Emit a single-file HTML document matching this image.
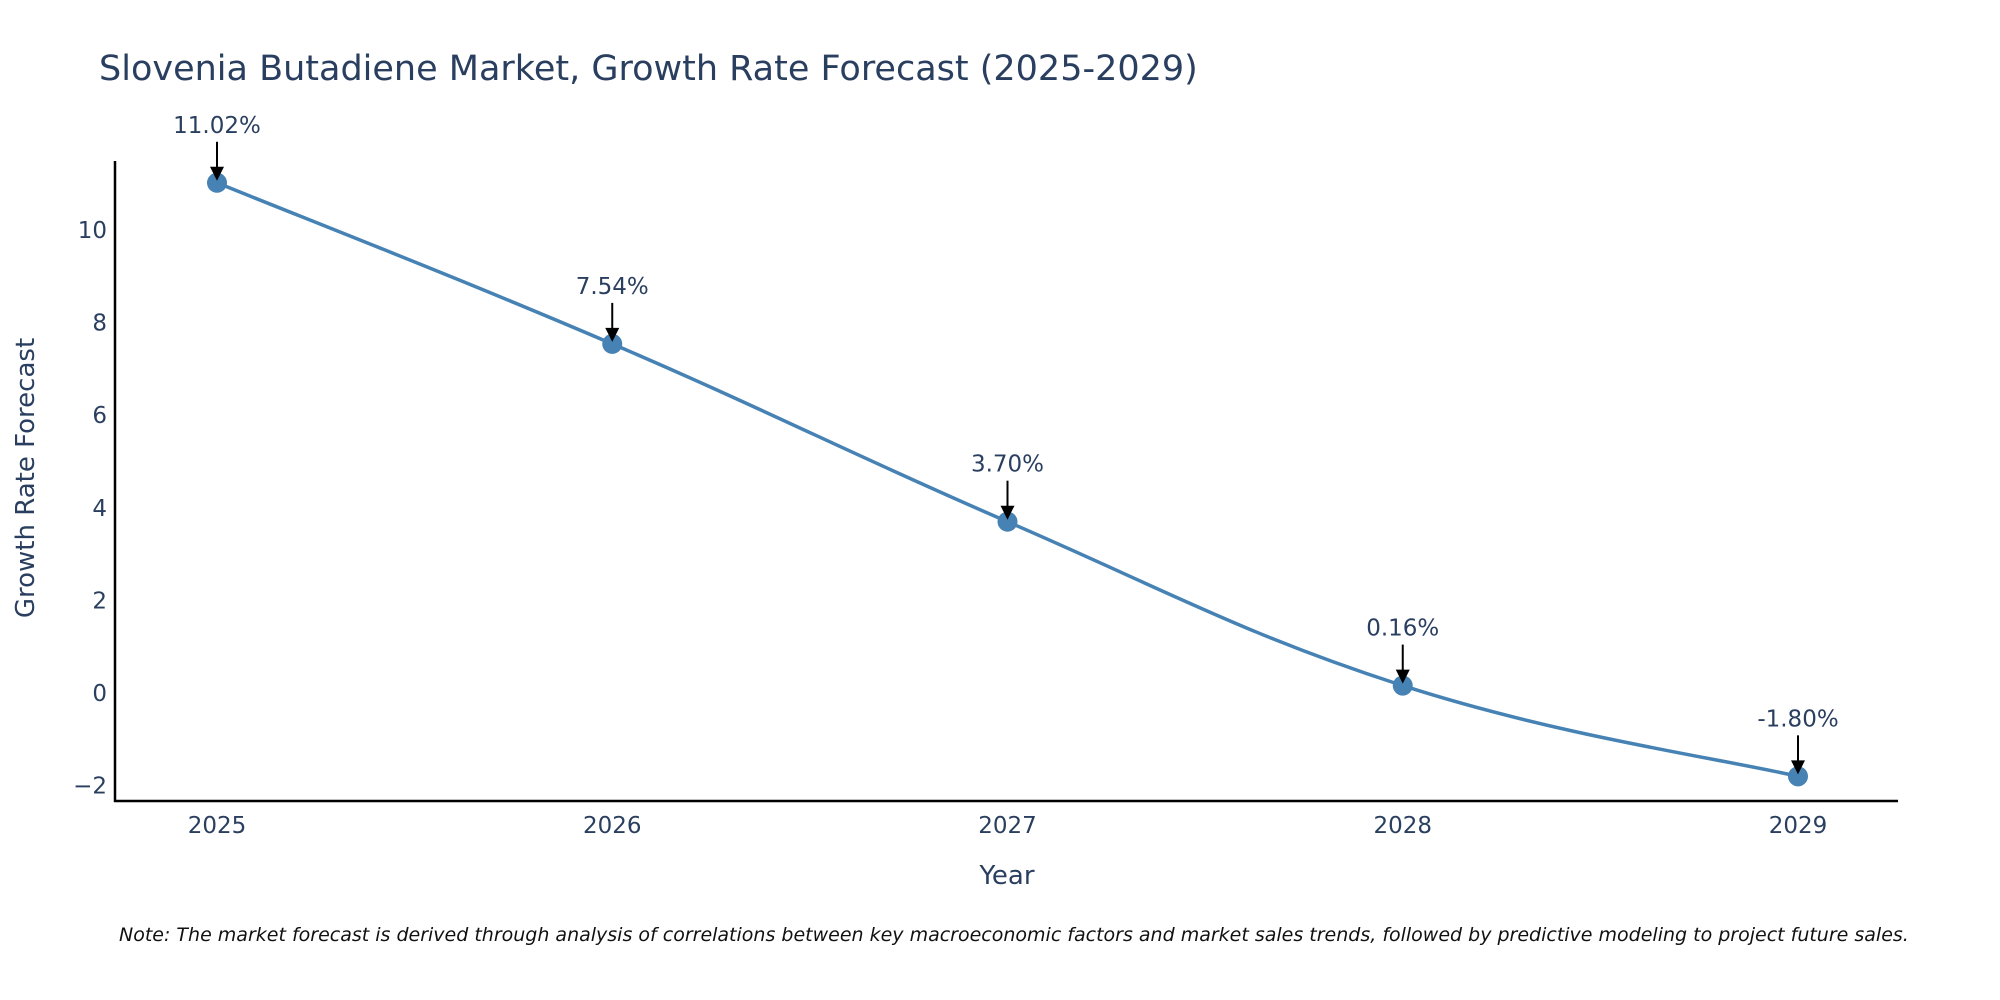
<!DOCTYPE html>
<html><head><meta charset="utf-8"><style>
body{margin:0;background:#fff;}
svg{display:block;font-family:"DejaVu Sans","Liberation Sans",sans-serif;}
</style></head><body>
<svg id="chart" width="2000" height="1000" viewBox="0 0 2000 1000">
<text x="99" y="80" font-size="35" fill="#2a3f5f">Slovenia Butadiene Market, Growth Rate Forecast (2025-2029)</text>
<g id="yticks"></g>
<g id="xticks"></g>
<line x1="115" y1="161" x2="115" y2="802" stroke="#000" stroke-width="2.5"/>
<line x1="114" y1="801" x2="1898" y2="801" stroke="#000" stroke-width="2.5"/>
<g id="series"></g>
<g id="annots"></g>
<text transform="translate(34,478) rotate(-90)" text-anchor="middle" font-size="26" fill="#2a3f5f">Growth Rate Forecast</text>
<text x="1007" y="884" text-anchor="middle" font-size="26" fill="#2a3f5f">Year</text>
<text x="119" y="941" font-size="19" font-style="italic" fill="#111">Note: The market forecast is derived through analysis of correlations between key macroeconomic factors and market sales trends, followed by predictive modeling to project future sales.</text>
</svg>
<script>
const years = ["2025","2026","2027","2028","2029"];
const values = [11.02, 7.54, 3.70, 0.16, -1.80];
const labels = ["11.02%","7.54%","3.70%","0.16%","-1.80%"];
const yTicks = [-2,0,2,4,6,8,10];
const NS="http://www.w3.org/2000/svg";
function X(i){return 217+i*(1798-217)/(years.length-1);}
function Y(v){return 693-v*46.3;}
function mk(t,a,p){const e=document.createElementNS(NS,t);for(const k in a)e.setAttribute(k,a[k]);p.appendChild(e);return e;}
const yt=document.getElementById('yticks');
yTicks.forEach(v=>{const t=mk('text',{x:107,y:Y(v)+8,'text-anchor':'end','font-size':23,fill:'#2a3f5f'},yt);


t.textContent=v<0?'\u2212'+Math.abs(v):String(v);});
const xt=document.getElementById('xticks');
years.forEach((y,i)=>{const t=mk('text',{x:X(i),y:833,'text-anchor':'middle','font-size':23,fill:'#2a3f5f'},xt);


t.textContent=y;});
const pts=values.map((v,i)=>[X(i),Y(v)]);
let d='M'+pts[0][0]+','+pts[0][1];const s=0.2;
for(let i=0;i<pts.length-1;i++){const p0=pts[Math.max(0,i-1)],p1=pts[i],p2=pts[i+1],p3=pts[Math.min(pts.length-1,i+2)];
d+=' C'+(p1[0]+(p2[0]-p0[0])*s)+','+(p1[1]+(p2[1]-p0[1])*s)+' '+(p2[0]-(p3[0]-p1[0])*s)+','+(p2[1]-(p3[1]-p1[1])*s)+' '+p2[0]+','+p2[1];}
const g=document.getElementById('series');
const line=mk('path',{d:d,fill:'none',stroke:'#4682b4','stroke-width':3.5},g);


const an=document.getElementById('annots');
pts.forEach((p,i)=>{const c=mk('circle',{cx:p[0],cy:p[1],r:10,fill:'#4682b4'},g);


const l=mk('line',{x1:p[0],y1:p[1]-41,x2:p[0],y2:p[1]-12,stroke:'#000','stroke-width':2},an);


const h=mk('polygon',{points:(p[0]-7)+','+(p[1]-16)+' '+(p[0]+7)+','+(p[1]-16)+' '+p[0]+','+(p[1]-2),fill:'#000'},an);


const t=mk('text',{x:p[0],y:p[1]-50,'text-anchor':'middle','font-size':23,fill:'#2a3f5f'},an);


t.textContent=labels[i];});
</script>
</body></html>
